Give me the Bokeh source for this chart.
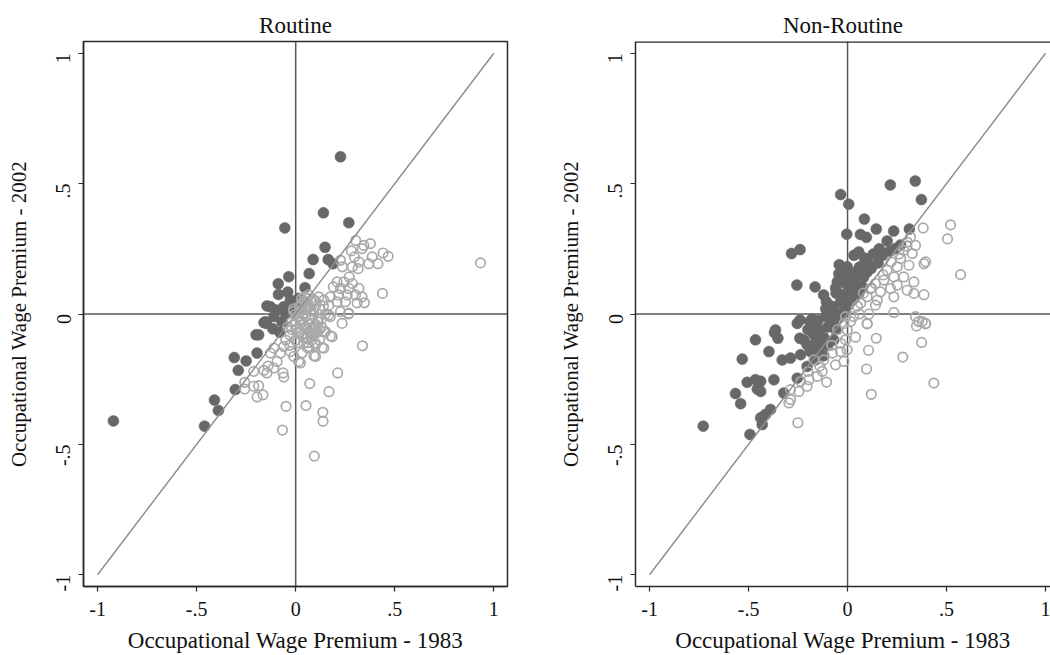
from bokeh.plotting import figure
from bokeh.layouts import row
from bokeh.models import FixedTicker, Span
from bokeh.embed import file_html
from bokeh.resources import INLINE
import math

# ---------------- data ----------------
tick_values = [-1.0, -0.5, 0.0, 0.5, 1.0]
tick_labels = ["-1", "-.5", "0", ".5", "1"]
diag = [-1.0, 1.0]

routine_filled_x = [-0.92, -0.46, -0.41, -0.39, -0.305, -0.31, -0.25, -0.29, -0.195, -0.2, -0.16, -0.115,
                    -0.08, 0.226, -0.055, 0.14, 0.268, 0.148, 0.088, 0.164, 0.188, 0.068, -0.035, -0.088,
                    0.047, -0.087, -0.04, -0.145, -0.1, -0.128, -0.027, 0.015, 0.0, -0.06, -0.11, -0.153,
                    -0.05, -0.02, -0.07, 0.03, -0.148, -0.187]
routine_filled_y = [-0.41, -0.43, -0.33, -0.37, -0.29, -0.167, -0.18, -0.216, -0.15, -0.08, -0.033, -0.057,
                    -0.07, 0.603, 0.33, 0.388, 0.35, 0.256, 0.209, 0.209, 0.193, 0.155, 0.143, 0.116,
                    0.101, 0.075, 0.084, 0.031, 0.015, 0.028, 0.053, 0.06, 0.04, 0.028, -0.01, -0.03,
                    0.0, 0.02, -0.03, 0.02, -0.036, -0.08]

routine_hollow_x = [0.303, 0.344, 0.377, 0.335, 0.281, 0.441, 0.467, 0.386, 0.415, 0.369, 0.296, 0.319,
                    0.286, 0.226, 0.236, 0.315, 0.27, 0.209, 0.243, 0.286, 0.19, 0.226, 0.268, 0.319,
                    0.438, 0.217, 0.26, 0.302, 0.335, 0.175, 0.347, 0.31, 0.251, 0.209, 0.167, 0.142,
                    0.117, 0.226, 0.268, 0.175, 0.234, 0.933, 0.266, 0.167,
                    0.175, 0.337, 0.133, 0.092, 0.212, 0.071, 0.168, -0.049, 0.052, 0.137, 0.138, -0.067,
                    0.094, -0.257, -0.257, -0.212, -0.187, -0.195, -0.165, -0.212, -0.161, -0.145, -0.14,
                    -0.064, -0.06, -0.111, -0.094, -0.077, -0.128, -0.11, -0.06, -0.027, 0.015, -0.01,
                    0.032, 0.066, 0.1, 0.074, 0.142, 0.184, 0.15, 0.1, 0.024, 0.142,
                    0.0, 0.02, 0.04, 0.06, 0.08, 0.05, 0.03, 0.07, 0.09, 0.1, 0.11, 0.06, 0.03, 0.0,
                    -0.02, -0.03, 0.01, 0.04, 0.08, 0.12, 0.1, 0.06, 0.13, -0.01, 0.02, 0.05, 0.07,
                    0.09, 0.12, -0.04, 0.0, 0.06, 0.15, 0.14, -0.05, 0.03, 0.08, 0.065, 0.09, 0.045,
                    0.01, 0.03, 0.05, 0.07, 0.09, 0.11, 0.02, 0.04, 0.06, 0.08, 0.1, 0.12, -0.02, 0.0,
                    0.02, 0.04, 0.06, 0.08, 0.1, -0.03, 0.01, 0.05, 0.09, 0.13, 0.035, 0.075, 0.115,
                    -0.01, 0.025, 0.055]
routine_hollow_y = [0.282, 0.263, 0.27, 0.251, 0.242, 0.234, 0.221, 0.219, 0.193, 0.193, 0.219, 0.2,
                    0.181, 0.206, 0.181, 0.174, 0.142, 0.123, 0.123, 0.117, 0.104, 0.098, 0.098, 0.098,
                    0.079, 0.073, 0.073, 0.073, 0.066, 0.066, 0.043, 0.043, 0.047, 0.047, 0.034, 0.053,
                    0.066, 0.009, 0.003, -0.01, -0.036, 0.196, 0.0, -0.004,
                    -0.084, -0.122, -0.129, -0.16, -0.226, -0.267, -0.298, -0.354, -0.351, -0.377, -0.411, -0.445,
                    -0.545, -0.262, -0.288, -0.277, -0.275, -0.318, -0.31, -0.22, -0.216, -0.226, -0.2,
                    -0.226, -0.242, -0.207, -0.182, -0.15, -0.15, -0.131, -0.125, -0.144, -0.182, -0.163,
                    -0.15, -0.125, -0.112, -0.074, -0.067, -0.087, -0.067, -0.163, -0.188, -0.131,
                    0.0, -0.02, -0.04, -0.06, -0.02, 0.02, 0.04, 0.03, 0.01, -0.04, -0.07, -0.09, -0.08, -0.06,
                    -0.03, -0.08, -0.11, -0.11, -0.1, 0.02, 0.05, 0.06, -0.02, 0.02, 0.01, -0.01, -0.04,
                    -0.08, -0.1, -0.05, -0.1, -0.13, 0.0, 0.03, -0.1, 0.06, 0.05, 0.073, 0.053, 0.065,
                    -0.01, -0.03, -0.05, -0.07, -0.05, -0.03, -0.07, -0.09, -0.11, -0.08, -0.12, -0.06,
                    -0.06, -0.04, 0.03, 0.05, 0.02, 0.0, 0.03, -0.12, -0.07, 0.04, -0.06, -0.05, -0.0,
                    0.015, -0.02, 0.01, -0.025, -0.09, -0.13]

nonroutine_filled_x = [-0.035, 0.006, 0.216, 0.342, 0.373, 0.085, 0.145, 0.233, 0.312, -0.004, 0.065, 0.095,
                       -0.283, -0.24, 0.268, 0.242, 0.213, 0.175, 0.032, 0.057, 0.085, -0.042, -0.002, -0.044,
                       -0.018, 0.099, 0.12, 0.154, -0.044, -0.256, -0.164, -0.052, 0.032, 0.007, -0.01, 0.057,
                       -0.121, -0.058, -0.107, -0.035, -0.01, 0.057, 0.074, 0.032, -0.061, -0.111, -0.24, -0.19,
                       -0.15, -0.086, -0.364,
                       -0.729, -0.493, -0.465, -0.369, -0.352, -0.397, -0.532, -0.33, -0.288, -0.237, -0.241,
                       -0.204, -0.254, -0.17, -0.187, -0.162, -0.204, -0.507, -0.465, -0.439, -0.372, -0.566,
                       -0.54, -0.456, -0.439, -0.322, -0.254, -0.439, -0.389, -0.414, -0.431,
                       -0.2, -0.17, -0.14, -0.12, -0.1, -0.08, -0.06, -0.13, -0.16, -0.22, -0.1, -0.07, -0.05,
                       -0.03, -0.15, -0.12, -0.18, -0.11, -0.08, -0.02, 0.0, 0.02, 0.04, 0.06, 0.1, 0.13, 0.16,
                       0.2, 0.02, -0.06, -0.08, 0.0, 0.03, 0.08, 0.1, -0.03]
nonroutine_filled_y = [0.458, 0.421, 0.495, 0.51, 0.439, 0.364, 0.326, 0.318, 0.326, 0.306, 0.305, 0.294,
                       0.232, 0.247, 0.265, 0.251, 0.241, 0.225, 0.225, 0.238, 0.215, 0.189, 0.181, 0.155,
                       0.161, 0.161, 0.175, 0.196, 0.13, 0.111, 0.104, 0.123, 0.136, 0.104, 0.117, 0.104,
                       0.073, 0.08, 0.047, 0.047, 0.02, 0.079, 0.104, 0.06, 0.009, -0.01, -0.023, -0.029,
                       -0.025, -0.01, -0.061,
                       -0.43, -0.462, -0.099, -0.071, -0.093, -0.144, -0.173, -0.176, -0.169, -0.156, -0.093,
                       -0.118, -0.036, -0.048, -0.144, -0.176, -0.201, -0.262, -0.252, -0.258, -0.252, -0.305,
                       -0.344, -0.288, -0.297, -0.303, -0.246, -0.398, -0.366, -0.385, -0.424,
                       -0.06, -0.08, -0.06, -0.09, -0.05, -0.03, -0.06, -0.12, -0.11, -0.1, -0.12, -0.1, -0.02,
                       0.0, -0.15, -0.16, -0.02, 0.02, 0.03, 0.04, 0.07, 0.1, 0.16, 0.18, 0.2, 0.23, 0.25,
                       0.28, 0.05, 0.1, 0.0, 0.14, 0.09, 0.14, 0.17, 0.075]

nonroutine_hollow_x = [-0.251, -0.296, -0.288, -0.288, -0.246, -0.204, -0.237, -0.195, -0.153, -0.106, -0.128,
                       -0.17, -0.12, -0.061, -0.018, -0.077, -0.035, -0.035, -0.01, -0.018, -0.002, 0.099,
                       0.04, 0.145, 0.106, 0.096, 0.12, 0.279, 0.374, 0.436, 0.348, 0.394, 0.359, -0.002,
                       0.382, 0.52, 0.505, 0.571, 0.318, 0.343, 0.301, 0.327, 0.284, 0.386, 0.394, 0.268,
                       0.31, 0.251, 0.2, 0.234, 0.284, 0.335, 0.183, 0.141, 0.251, 0.301, 0.335, 0.386,
                       0.217, 0.167, 0.116, 0.099, 0.15, 0.234, 0.141, 0.066, 0.234, 0.108, 0.343, 0.377,
                       0.394, 0.099, -0.01, 0.015,
                       0.05, 0.08, 0.12, 0.18, 0.22, 0.26, 0.3, 0.03, 0.06, -0.05, -0.08, -0.14, -0.2]
nonroutine_hollow_y = [-0.417, -0.341, -0.328, -0.29, -0.297, -0.277, -0.258, -0.252, -0.239, -0.261, -0.22,
                       -0.176, -0.176, -0.195, -0.182, -0.15, -0.144, -0.112, -0.099, -0.036, -0.061, -0.038,
                       -0.089, -0.093, -0.139, -0.211, -0.308, -0.165, -0.109, -0.265, -0.046, -0.038, -0.029, -0.137,
                       0.33, 0.342, 0.288, 0.151, 0.295, 0.263, 0.276, 0.232, 0.244, 0.193, 0.2, 0.213,
                       0.187, 0.181, 0.168, 0.142, 0.142, 0.123, 0.13, 0.117, 0.111, 0.091, 0.079, 0.074,
                       0.098, 0.085, 0.098, 0.066, 0.053, 0.066, 0.034, 0.041, 0.006, 0.0, -0.01, -0.029,
                       -0.036, -0.036, -0.01, -0.029,
                       0.03, 0.08, 0.1, 0.15, 0.2, 0.23, 0.26, -0.01, 0.0, -0.06, -0.12, -0.2, -0.22]

# ---------------- styling ----------------
FONT = "Liberation Serif"
DARK = "#686868"
LIGHT = "#a9a9a9"
DIAG = "#8f8f8f"
ZERO = "#575757"
FRAME = "#2a2a2a"


def make_panel(title, fx, fy, hx, hy, x_end, width, border_right, outline):
    p = figure(width=width, height=655, output_backend="svg", toolbar_location=None,
               x_range=(-1.071, x_end), y_range=(-1.045, 1.045),
               min_border_left=83, min_border_right=border_right,
               min_border_top=41, min_border_bottom=10)
    p.background_fill_color = "white"
    p.border_fill_color = "white"
    p.grid.visible = False
    if outline:
        p.outline_line_color = FRAME
        p.outline_line_width = 1.5
    else:
        p.outline_line_color = None
        p.add_layout(Span(location=1.045, dimension="width", line_color=FRAME, line_width=2.5))

    p.title.text = title
    p.title.align = "center"
    p.title.text_font = FONT
    p.title.text_font_size = "23px"
    p.title.text_font_style = "normal"
    p.title.text_color = "#111111"
    p.title.standoff = 8

    for ax in (p.xaxis[0], p.yaxis[0]):
        ax.ticker = FixedTicker(ticks=tick_values)
        ax.major_label_overrides = {v: s for v, s in zip(tick_values, tick_labels)}
        ax.minor_tick_line_color = None
        ax.major_tick_in = 0
        ax.major_tick_out = 5
        ax.major_tick_line_color = FRAME
        ax.major_tick_line_width = 1.2
        ax.axis_line_color = FRAME
        ax.axis_line_width = 1.5
        ax.major_label_text_font = FONT
        ax.major_label_text_font_size = "20px"
        ax.major_label_text_color = "#111111"
        ax.axis_label_text_font = FONT
        ax.axis_label_text_font_style = "normal"
        ax.axis_label_text_color = "#111111"

    p.xaxis.axis_label = "Occupational Wage Premium - 1983"
    p.yaxis.axis_label = "Occupational Wage Premium - 2002"
    p.xaxis.axis_label_text_font_size = "23px"
    p.yaxis.axis_label_text_font_size = "21px"
    p.xaxis.major_label_standoff = 10
    p.xaxis.axis_label_standoff = 9
    p.yaxis.major_label_orientation = math.pi / 2
    p.yaxis.major_label_standoff = 15
    p.yaxis.axis_label_standoff = 16

    p.add_layout(Span(location=0, dimension="height", line_color=ZERO, line_width=1.5, level="underlay"))
    p.add_layout(Span(location=0, dimension="width", line_color=ZERO, line_width=1.5, level="underlay"))

    p.scatter(fx, fy, marker="circle", size=11, fill_color=DARK, line_color=DARK, line_width=0.5)
    p.scatter(hx, hy, marker="circle", size=9.5, fill_color=None, line_color=LIGHT, line_width=1.7)
    p.line(diag, diag, line_color=DIAG, line_width=1.5)
    return p


left = make_panel("Routine", routine_filled_x, routine_filled_y,
                  routine_hollow_x, routine_hollow_y, 1.069, 552, 45, True)
right = make_panel("Non-Routine", nonroutine_filled_x, nonroutine_filled_y,
                   nonroutine_hollow_x, nonroutine_hollow_y, 1.025, 498, 0, False)

layout = row(left, right)
open("out.html", "w").write(file_html(layout, INLINE))
